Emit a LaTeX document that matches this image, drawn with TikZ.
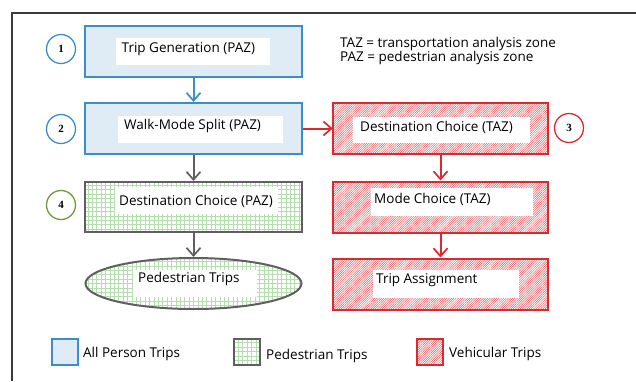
\documentclass[tikz,border=0pt]{standalone}
\usepackage{fontspec}
\setmainfont{Open Sans}
\newfontfamily\numfont{Liberation Serif}
\usetikzlibrary{arrows.meta,patterns.meta,shapes.geometric}
\definecolor{bbord}{HTML}{3D8EC8}
\definecolor{bfill}{HTML}{DFECF6}
\definecolor{gbord}{HTML}{5F5F5F}
\definecolor{ggrid}{HTML}{B4DEAD}
\definecolor{rbord}{HTML}{DA2A30}
\definecolor{rhatch}{HTML}{E25A60}
\definecolor{gcirc}{HTML}{6C9B3E}
\definecolor{frame}{HTML}{3A3A3A}
\tikzset{
  gridpat/.style={path picture={\draw[ggrid, line width=0.6pt, step=4.4pt] ([shift={(-1pt,-1pt)}]path picture bounding box.south west) grid (path picture bounding box.north east);}},
  redpat/.style={pattern={Lines[angle=45, distance=1.6pt, line width=0.5pt]}, pattern color=rhatch},
  bluebox/.style={draw=bbord, line width=2pt, fill=bfill, minimum width=217, minimum height=51, inner sep=0},
  greenbox/.style={draw=gbord, line width=2pt, gridpat, minimum width=217, minimum height=50, inner sep=0},
  redbox/.style={draw=rbord, line width=2pt, redpat, minimum width=215, minimum height=51, inner sep=0},
  txt/.style={anchor=base west, inner sep=0, font=\fontsize{13.5}{16}\selectfont},
  num/.style={circle, draw, line width=1.3pt, minimum size=29, inner sep=0, font=\numfont\bfseries\fontsize{11}{12}\selectfont},
  tip/.style={-{Straight Barb[length=8pt, width=14pt, line width=1.7pt]}},
  blarr/.style={draw=bbord, line width=2pt, tip},
  grarr/.style={draw=gbord, line width=2pt, tip},
  rdarr/.style={draw=rbord, line width=2pt, tip},
}
\begin{document}
\begin{tikzpicture}[x=1pt, y=-1pt]
\useasboundingbox (0,0) rectangle (636,381);
\draw[frame, line width=1.2pt] (12,381) -- (12,13) -- (636,13);

% boxes
\node[bluebox] (b1) at (193.5,51) {};
\node[bluebox] (b2) at (193.5,128.5) {};
\node[greenbox] (b4) at (193.5,207) {};
\node[ellipse, draw=gbord, line width=2pt, gridpat, minimum width=216, minimum height=51, inner sep=0] (e) at (193.5,283.5) {};
\node[redbox] (r1) at (440.5,128.5) {};
\node[redbox] (r2) at (440.5,207) {};
\node[redbox] (r3) at (440.5,284) {};

% white label panels
\fill[white] (116,38) rectangle (270,65);
\fill[white] (118,116) rectangle (283,143);
\fill[white] (115,187) rectangle (278,214);
\fill[white] (133,270) rectangle (257,297);
\fill[white] (353,117) rectangle (530,143);
\fill[white] (371,188) rectangle (533,216);
\fill[white] (373,270) rectangle (519,298);

% labels
\node[txt] (t1) at (121.5,52.7) {Trip Generation (PAZ)};
\node[txt] (t2) at (124,129.5) {Walk-Mode Split (PAZ)};
\node[txt] (t4) at (119,205) {Destination Choice (PAZ)};
\node[txt] (te) at (138,282) {Pedestrian Trips};
\node[txt] (tr1) at (360,131.7) {Destination Choice (TAZ)};
\node[txt] (tr2) at (374,203) {Mode Choice (TAZ)};
\node[txt] (tr3) at (376,283) {Trip Assignment};

% numbers
\node[num, draw=bbord] (n1) at (61,49) {1};
\node[num, draw=bbord] (n2) at (61,129) {2};
\node[num, draw=rbord] (n3) at (569,128) {3};
\node[num, draw=gcirc] (n4) at (61,205) {4};

% key text
\node[txt] (k1) at (340,47.3) {TAZ = transportation analysis zone};
\node[txt] (k2) at (340,61.3) {PAZ = pedestrian analysis zone};

% arrows
\draw[blarr] (b1) -- (b2);
\draw[grarr] (b2) -- (b4);
\draw[grarr] (b4) -- (e);
\draw[rdarr] (b2) -- (r1);
\draw[rdarr] (r1) -- (r2);
\draw[rdarr] (r2) -- (r3);

% legend
\node[draw=bbord, line width=2pt, fill=bfill, minimum size=26, inner sep=0] (lg1) at (65,351.5) {};
\node[txt] (lt1) at (83,357) {All Person Trips};
\node[draw=gbord, line width=2pt, gridpat, minimum size=26, inner sep=0] (lg2) at (247,351.5) {};
\node[txt] (lt2) at (266,359) {Pedestrian Trips};
\node[draw=rbord, line width=2pt, redpat, minimum size=26, inner sep=0] (lg3) at (430,351.5) {};
\node[txt] (lt3) at (449,357) {Vehicular Trips};
\end{tikzpicture}
\end{document}
